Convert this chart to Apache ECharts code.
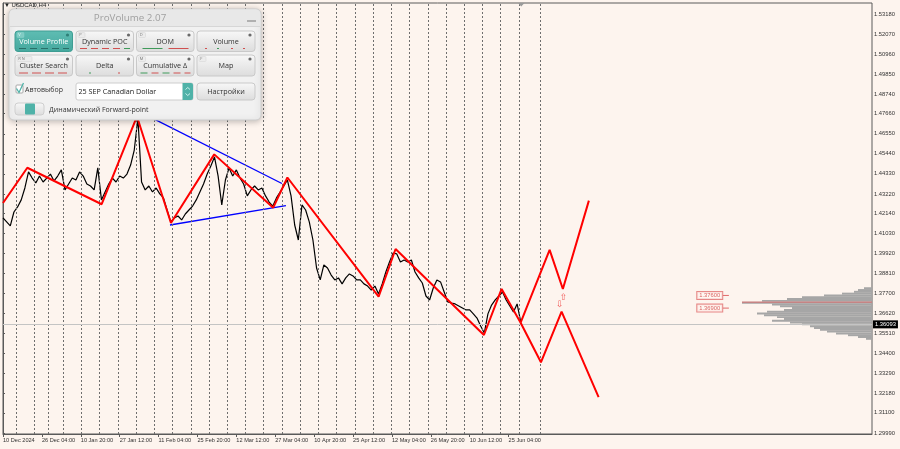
<!DOCTYPE html>
<html><head><meta charset="utf-8">
<script src="https://cdn.jsdelivr.net/npm/echarts@6/dist/echarts.min.js"></script>
<style>html,body{margin:0;padding:0;background:#fdf4ee;}#c{width:900px;height:449px;}</style>
</head><body><div id="c"></div>
<script>
// ---------- data ----------
const xLabels = ['10 Dec 2024','26 Dec 04:00','10 Jan 20:00','27 Jan 12:00','11 Feb 04:00','25 Feb 20:00','12 Mar 12:00','27 Mar 04:00','10 Apr 20:00','25 Apr 12:00','12 May 04:00','26 May 20:00','10 Jun 12:00','25 Jun 04:00'];
const xLabelBars = [0,64,128,192,256,320,384,448,512,576,640,704,768,832];
const yTicks = [1.5318,1.5207,1.5096,1.4985,1.4874,1.4766,1.4655,1.4544,1.4433,1.4322,1.4214,1.4103,1.3992,1.3881,1.3770,1.3662,1.3551,1.3440,1.3329,1.3218,1.3110,1.2999];
const weekSeparators = [21,51,75,99,129,159,189,219,249,279,309,339,369,399,429,459,489,519,549,579,609,639,669,699,729,759,789,819,849,884];
const barsPerSample = 6; // one sample per trading day (6 H4 bars)
const closePrices = [1.4189,1.4167,1.4145,1.4222,1.4250,1.4289,1.4355,1.4444,1.4410,1.4383,
1.4421,1.4388,1.4410,1.4432,1.4394,1.4421,1.4455,1.4344,1.4377,1.4410,
1.4399,1.4444,1.4421,1.4377,1.4366,1.4344,1.4466,1.4289,1.4333,1.4377,
1.4410,1.4388,1.4421,1.4410,1.4432,1.4482,1.4565,1.4742,1.4388,1.4344,
1.4366,1.4333,1.4355,1.4322,1.4300,1.4233,1.4167,1.4189,1.4200,1.4178,
1.4211,1.4233,1.4255,1.4289,1.4333,1.4377,1.4432,1.4477,1.4527,1.4421,
1.4261,1.4399,1.4466,1.4421,1.4455,1.4410,1.4377,1.4311,1.4344,1.4366,
1.4344,1.4355,1.4311,1.4277,1.4255,1.4300,1.4333,1.4366,1.4399,1.4311,
1.4150,1.4067,1.4261,1.4233,1.4167,1.4067,1.3912,1.3846,1.3929,1.3912,
1.3873,1.3846,1.3857,1.3824,1.3857,1.3879,1.3868,1.3846,1.3846,1.3824,
1.3812,1.3790,1.3812,1.3768,1.3824,1.3890,1.3945,1.3995,1.3990,1.3945,
1.3956,1.3945,1.3956,1.3890,1.3857,1.3829,1.3757,1.3735,1.3801,1.3846,
1.3835,1.3779,1.3724,1.3718,1.3713,1.3702,1.3691,1.3680,1.3680,1.3658,
1.3635,1.3591,1.3552,1.3658,1.3707,1.3735,1.3757,1.3779,1.3735,1.3702,
1.3669,1.3713,1.3613];
const zigzagBars   = [0,40,162.4,220.5,276.4,347.6,444.7,468,618.1,646,791.4,820.5,851.8];
const zigzagPrices = [1.4272,1.4467,1.4265,1.4751,1.4161,1.4541,1.4246,1.4413,1.3753,1.4017,1.3541,1.3796,1.3609];
const projUpBars   = [851.8,899.5,921.3,964.1];
const projUpPrices = [1.3609,1.4012,1.3796,1.4285];
const projDnBars   = [851.8,885.2,919.2,980.1];
const projDnPrices = [1.3609,1.3390,1.3670,1.3197];
const trendUpperBars = [222,459];   const trendUpperPrices = [1.4782,1.4380];
const trendLowerBars = [274.8,465.6]; const trendLowerPrices = [1.4150,1.4257];
const arrowBars = [922.5,916]; const arrowPrices = [1.3750,1.3707]; const arrowGlyphs = ['⇧','⇩'];
const profilePrices  = [1.3800,1.3790,1.3780,1.3770,1.3760,1.3750,1.3740,1.3730,1.3720,1.3710,1.3700,1.3690,1.3680,1.3670,1.3660,1.3650,1.3640,1.3630,1.3620,1.3610,1.3600,1.3590,1.3580,1.3570,1.3560,1.3550,1.3540,1.3530,1.3520];
const profileVolumes = [8,14,18,30,48,70,85,110,130,100,92,80,88,105,115,108,95,88,100,82,70,62,58,52,45,36,24,14,6];
const pocPrice = 1.3723;
const levelPrices = [1.3760,1.3690];
const levelLabelBar = 1163;
const levelTickBars = [1184.6,1194.5];
const lastPrice = 1.36093;

// ---------- helpers ----------
const pair = (xs, ys) => xs.map((x, i) => [x, ys[i]]);
const Y_MIN = 1.2993, Y_MAX = 1.5379;
const FONT = 'Liberation Sans';
const UI = '"Open Sans"';
const teal = '#4fb2a8';

// ---------- panel graphics ----------
const g = [];
const Z = 100;
g.push({type:'rect', z:Z, shape:{x:9,y:9,width:252,height:111,r:5}, style:{fill:'#f1f1f1', stroke:'#cdcdcd', lineWidth:1, shadowBlur:6, shadowColor:'rgba(0,0,0,0.25)', shadowOffsetY:1}});
g.push({type:'rect', z:Z, shape:{x:9.5,y:9.5,width:251,height:17,r:[5,5,0,0]}, style:{fill:'#e8e8e8'}});
g.push({type:'line', z:Z, shape:{x1:10,y1:26.5,x2:260,y2:26.5}, style:{stroke:'#d6d6d6', lineWidth:1}});
g.push({type:'text', z:Z, style:{x:130, y:18, text:'ProVolume 2.07', fill:'#a0a0a0', font:'9.8px ' + UI, align:'center', verticalAlign:'middle'}});
g.push({type:'line', z:Z, shape:{x1:247,y1:21,x2:256,y2:21}, style:{stroke:'#8a8a8a', lineWidth:1.2}});

const grad = {type:'linear', x:0, y:0, x2:0, y2:1, colorStops:[{offset:0,color:'#f8f8f8'},{offset:1,color:'#dcdcdc'}]};
const gradTeal = {type:'linear', x:0, y:0, x2:0, y2:1, colorStops:[{offset:0,color:'#5fbdb3'},{offset:1,color:'#45a89e'}]};
function button(x, y, w, h, label, tag, active, dashes) {
  g.push({type:'rect', z:Z, shape:{x:x,y:y,width:w,height:h,r:3}, style:{fill: active ? gradTeal : grad, stroke: active ? '#3f9d93' : '#c9c9c9', lineWidth:1}});
  if (tag) {
    g.push({type:'rect', z:Z, shape:{x:x+2,y:y+1.5,width:tag.length*4+3,height:5,r:1}, style:{fill: active ? '#7fcbc3' : '#ececec', stroke: active ? '#8fd3cb' : '#d2d2d2', lineWidth:0.5}});
    g.push({type:'text', z:Z, style:{x:x+3.3, y:y+4.2, text:tag, fill: active ? '#e8fffc' : '#777', font:'4px ' + UI, verticalAlign:'middle'}});
  }
  g.push({type:'circle', z:Z, shape:{cx:x+w-5, cy:y+4, r:1.6}, style:{fill: active ? '#2f7f77' : '#6a6a6a'}});
  g.push({type:'text', z:Z, style:{x:x+w/2, y:y+h/2+0.8, text:label, fill: active ? '#ffffff' : '#333333', font:'7.2px ' + UI, align:'center', verticalAlign:'middle'}});
  (dashes || []).forEach(d => {
    g.push({type:'line', z:Z, shape:{x1:x+d[0], y1:y+h-3, x2:x+d[1], y2:y+h-3}, style:{stroke:d[2], lineWidth:1}});
  });
}
const R = '#d05050', G = '#3f9a5a', K = '#2a6f68';
button(15, 31, 57.5, 20.5, 'Volume Profile', 'V', true, [[4,11,K],[15,22,K],[26,33,K],[37,44,K],[48,54,K]]);
button(76, 31, 57.5, 20.5, 'Dynamic POC', 'P', false, [[4,11,R],[15,22,R],[26,33,R],[37,44,R],[48,54,G]]);
button(136.5, 31, 57.5, 20.5, 'DOM', 'D', false, [[6,26,G],[32,52,R]]);
button(197, 31, 58, 20.5, 'Volume', '', false, [[8,10,R],[20,22,G],[34,36,R],[46,48,R]]);
button(15, 55, 57.5, 21, 'Cluster Search', 'R N', false, [[4,13,R],[17,26,R],[30,39,R],[43,52,R]]);
button(76, 55, 57.5, 21, 'Delta', '', false, [[13,15,G],[42,44,R]]);
button(136.5, 55, 57.5, 21, 'Cumulative Δ', 'M', false, [[4,11,G],[15,22,R],[26,33,G],[37,44,R],[48,54,R]]);
button(197, 55, 58, 21, 'Map', 'F', false, []);
// row 3
g.push({type:'rect', z:Z, shape:{x:16,y:85,width:7,height:8,r:1}, style:{fill:'#ffffff', stroke:'#a8a8a8', lineWidth:1}});
g.push({type:'polyline', z:Z, shape:{points:[[16.5,88.5],[19,92.5],[23.5,83]]}, style:{stroke:teal, lineWidth:1.3, fill:null}});
g.push({type:'text', z:Z, style:{x:25, y:90, text:'Автовыбор', fill:'#333', font:'7px ' + UI, verticalAlign:'middle'}});
g.push({type:'rect', z:Z, shape:{x:76,y:83,width:117,height:17,r:2}, style:{fill:'#ffffff', stroke:'#cdcdcd', lineWidth:1}});
g.push({type:'text', z:Z, style:{x:78.5, y:91.5, text:'25 SEP Canadian Dollar', fill:'#222', font:'7.2px ' + UI, verticalAlign:'middle'}});
g.push({type:'rect', z:Z, shape:{x:182.5,y:83,width:10.5,height:17,r:[0,2,2,0]}, style:{fill:teal}});
g.push({type:'polyline', z:Z, shape:{points:[[185.5,89.5],[187.75,87.5],[190,89.5]]}, style:{stroke:'#e8fffc', lineWidth:0.8, fill:null}});
g.push({type:'polyline', z:Z, shape:{points:[[185.5,93.5],[187.75,95.5],[190,93.5]]}, style:{stroke:'#e8fffc', lineWidth:0.8, fill:null}});
g.push({type:'rect', z:Z, shape:{x:197,y:83,width:58,height:17,r:3}, style:{fill:grad, stroke:'#c9c9c9', lineWidth:1}});
g.push({type:'text', z:Z, style:{x:226, y:91.8, text:'Настройки', fill:'#333', font:'7.2px ' + UI, align:'center', verticalAlign:'middle'}});
// row 4
g.push({type:'rect', z:Z, shape:{x:15,y:103,width:29,height:12,r:3}, style:{fill:grad, stroke:'#cfcfcf', lineWidth:1}});
g.push({type:'rect', z:Z, shape:{x:25,y:103.5,width:10,height:11,r:1}, style:{fill:teal}});
g.push({type:'text', z:Z, style:{x:49, y:109.5, text:'Динамический Forward-point', fill:'#333', font:'7px ' + UI, verticalAlign:'middle'}});
// symbol caption and chart-shift marker
g.push({type:'text', z:Z-1, style:{x:4, y:5.5, text:'▼ USDCAD,H4', fill:'#222', font:'6px "Liberation Sans"', verticalAlign:'middle'}});
g.push({type:'polygon', z:Z, shape:{points:[[518,3],[524.5,3],[521.2,6.5]]}, style:{fill:'#9a9a9a'}});

// ---------- chart ----------
const chart = echarts.init(document.getElementById('c'), null, {renderer:'canvas'});
const option = {
  animation: false,
  backgroundColor: '#fdf4ee',
  grid: [
    {left:3, right:28, top:3, bottom:15, show:true, borderColor:'#5a5a5a', borderWidth:1, backgroundColor:'transparent'},
    {left:742, right:28, top:3, bottom:15}
  ],
  xAxis: [
    {type:'value', gridIndex:0, min:0, max:1430, position:'bottom',
     axisLine:{show:true, lineStyle:{color:'#5a5a5a'}},
     axisTick:{show:true, length:3, customValues:xLabelBars, lineStyle:{color:'#5a5a5a'}},
     axisLabel:{customValues:xLabelBars, formatter:v => xLabels[xLabelBars.indexOf(v)] || '', align:'left', fontSize:5.6, fontFamily:FONT, color:'#333', margin:3, showMinLabel:true, showMaxLabel:true, hideOverlap:false},
     splitLine:{show:false}},
    {type:'value', gridIndex:1, min:0, max:130, inverse:true, show:false}
  ],
  yAxis: [
    {type:'value', gridIndex:0, position:'right', min:Y_MIN, max:Y_MAX,
     axisLine:{show:true, lineStyle:{color:'#5a5a5a'}},
     axisTick:{show:true, length:2, customValues:yTicks, lineStyle:{color:'#5a5a5a'}},
     axisLabel:{customValues:yTicks, formatter:v => v.toFixed(5), fontSize:5.8, fontFamily:FONT, color:'#333', margin:2},
     splitLine:{show:false}},
    {type:'value', gridIndex:1, min:Y_MIN, max:Y_MAX, show:false}
  ],
  series: [
    {type:'custom', xAxisIndex:1, yAxisIndex:1, silent:true, z:1,
     data: pair(profileVolumes, profilePrices), encode:{x:0, y:1},
     renderItem:(params, api) => {
       const v = api.value(0), p = api.value(1);
       const a = api.coord([v, p + 0.00055]);
       const b = api.coord([0, p - 0.00055]);
       return {type:'rect', shape:{x:Math.min(a[0],b[0]), y:Math.min(a[1],b[1]), width:Math.abs(b[0]-a[0]), height:Math.abs(b[1]-a[1])}, style:{fill:'#a6a6a6'}};
     }},
    {type:'line', xAxisIndex:1, yAxisIndex:1, silent:true, z:2, symbol:'none',
     data:[[130,pocPrice],[0,pocPrice]], lineStyle:{color:'#d87070', width:1}},
    {type:'line', name:'USDCAD', silent:true, z:3, symbol:'none',
     data: closePrices.map((p, i) => [i * barsPerSample, p]),
     lineStyle:{color:'#000', width:1.2},
     markLine:{silent:true, symbol:'none', animation:false,
       data: weekSeparators.map(b => ({xAxis:b, lineStyle:{type:[2,2], color:'#6e6e6e', width:1}, label:{show:false}}))
         .concat([{yAxis:lastPrice, lineStyle:{type:'solid', color:'#c4c4c4', width:1},
           label:{show:true, position:'end', distance:1, formatter:lastPrice.toFixed(5), backgroundColor:'#000', color:'#fff', fontSize:5.8, fontFamily:FONT, padding:[1,2,1,2]}}])
     }},
    {type:'line', silent:true, z:4, symbol:'none', data: pair(trendUpperBars, trendUpperPrices), lineStyle:{color:'#0000ff', width:1.3}},
    {type:'line', silent:true, z:4, symbol:'none', data: pair(trendLowerBars, trendLowerPrices), lineStyle:{color:'#0000ff', width:1.3}},
    {type:'line', silent:true, z:5, symbol:'none', data: pair(zigzagBars, zigzagPrices), lineStyle:{color:'#ff0000', width:2}},
    {type:'line', silent:true, z:5, symbol:'none', data: pair(projUpBars, projUpPrices), lineStyle:{color:'#ff0000', width:2}},
    {type:'line', silent:true, z:5, symbol:'none', data: pair(projDnBars, projDnPrices), lineStyle:{color:'#ff0000', width:2}},
    {type:'scatter', silent:true, z:6, symbolSize:1, itemStyle:{color:'rgba(0,0,0,0)'},
     data: pair(arrowBars, arrowPrices),
     label:{show:true, position:'inside', formatter:p => arrowGlyphs[p.dataIndex], color:'#ee3030', fontSize:9, fontFamily:'DejaVu Sans'}},
    {type:'scatter', silent:true, z:6, symbolSize:1, itemStyle:{color:'rgba(0,0,0,0)'},
     data: levelPrices.map(p => [levelLabelBar, p]),
     label:{show:true, position:'inside', formatter:p => p.value[1].toFixed(5), color:'#d03a3a', fontSize:5.8, fontFamily:FONT, backgroundColor:'#fff7f3', borderColor:'#e06a6a', borderWidth:1, padding:[1,2,0,2]}},
    {type:'line', silent:true, z:6, symbol:'none', data: levelTickBars.map(b => [b, levelPrices[0]]), lineStyle:{color:'#e06a6a', width:1}},
    {type:'line', silent:true, z:6, symbol:'none', data: levelTickBars.map(b => [b, levelPrices[1]]), lineStyle:{color:'#e06a6a', width:1}}
  ],
  graphic: g
};
chart.setOption(option);
</script>
</body></html>
